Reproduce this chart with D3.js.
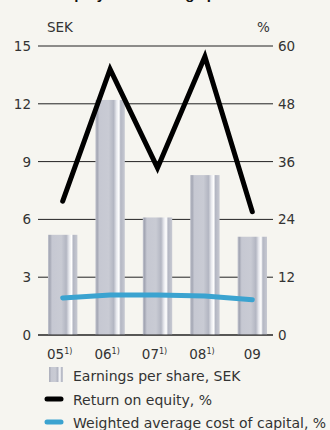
<!DOCTYPE html>
<html>
<head>
<meta charset="utf-8">
<script src="https://cdn.jsdelivr.net/npm/d3@7"></script>
<style>
  body { margin: 0; background: #f6f5f0; }
  svg { display: block; font-family: "DejaVu Sans", sans-serif; }
</style>
</head>
<body>
<div id="vis"></div>
<script>
const years = ["05", "06", "07", "08", "09"];
const yearNotes = ["1)", "1)", "1)", "1)", ""];
const eps = [5.2, 12.2, 6.1, 8.3, 5.1];
const roe = [27.8, 55.2, 34.7, 57.8, 25.6];
const wacc = [7.7, 8.3, 8.3, 8.1, 7.3];
const leftTicks = [0, 3, 6, 9, 12, 15];
const rightTicks = [0, 12, 24, 36, 48, 60];

const W = 330, H = 430;
const svg = d3.select("#vis").append("svg")
  .attr("width", W).attr("height", H);

const defs = svg.append("defs");
const grad = defs.append("linearGradient")
  .attr("id", "barGrad").attr("x1", "0%").attr("x2", "100%").attr("y1", "0%").attr("y2", "0%");
[[0, "#c3c5cf"], [6, "#a3a6b3"], [14, "#c6c8d2"], [45, "#c9cbd4"], [62, "#b3b6c2"], [72, "#e8e9ee"],
 [80, "#ffffff"], [86, "#b4b7c3"], [100, "#c7c9d2"]].forEach(([o, c]) => {
  grad.append("stop").attr("offset", o + "%").attr("stop-color", c);
});

// title (cut at top edge)
svg.append("text")
  .attr("x", -14).attr("y", -1)
  .attr("font-size", "15px").attr("font-weight", "bold").attr("fill", "#111")
  .attr("font-family", "Liberation Sans, Arial, sans-serif")
  .text("Return on equity and earnings per share");

const x = d3.scaleBand().domain(years).range([39, 276]).paddingInner(0.38).paddingOuter(0.19);
const yL = d3.scaleLinear().domain([0, 15]).range([335, 46]);
const yR = d3.scaleLinear().domain([0, 60]).range([335, 46]);

// gridlines
svg.append("g").selectAll("line")
  .data(leftTicks).enter().append("line")
  .attr("x1", 38).attr("x2", 273)
  .attr("y1", d => yL(d)).attr("y2", d => yL(d))
  .attr("stroke", "#222").attr("stroke-width", 1);

// tick labels
svg.append("g").selectAll("text")
  .data(leftTicks).enter().append("text")
  .attr("x", 31).attr("y", d => yL(d) + 5)
  .attr("text-anchor", "end").attr("font-size", "13.5px").attr("fill", "#333")
  .text(d => d);

svg.append("g").selectAll("text")
  .data(rightTicks).enter().append("text")
  .attr("x", 278).attr("y", d => yR(d) + 5)
  .attr("font-size", "13.5px").attr("fill", "#333")
  .text(d => d);

svg.append("text").attr("x", 47).attr("y", 32)
  .attr("font-size", "13.5px").attr("fill", "#333").text("SEK");
svg.append("text").attr("x", 257).attr("y", 32)
  .attr("font-size", "13.5px").attr("fill", "#333").text("%");

// bars
svg.append("g").selectAll("rect")
  .data(eps).enter().append("rect")
  .attr("x", (d, i) => x(years[i]))
  .attr("width", x.bandwidth())
  .attr("y", d => yL(d))
  .attr("height", d => yL(0) - yL(d))
  .attr("fill", "url(#barGrad)");

// baseline over bars
svg.append("line")
  .attr("x1", 38).attr("x2", 273).attr("y1", yL(0)).attr("y2", yL(0))
  .attr("stroke", "#222").attr("stroke-width", 1.2);

const cx = i => x(years[i]) + x.bandwidth() / 2;

const line = d3.line().x((d, i) => cx(i)).y(d => yR(d));

svg.append("path").datum(wacc)
  .attr("d", line).attr("fill", "none")
  .attr("stroke", "#3ba3d0").attr("stroke-width", 5).attr("stroke-linecap", "round");

svg.append("path").datum(roe)
  .attr("d", line).attr("fill", "none")
  .attr("stroke", "#000").attr("stroke-width", 5)
  .attr("stroke-linecap", "round").attr("stroke-linejoin", "miter");

// x labels
const xl = svg.append("g").selectAll("text")
  .data(years).enter().append("text")
  .attr("x", (d, i) => cx(i) + (yearNotes[i] ? -3 : 0))
  .attr("y", 359)
  .attr("text-anchor", "middle").attr("font-size", "13.5px").attr("fill", "#333");
xl.append("tspan").text(d => d);
xl.append("tspan").attr("dy", -5).attr("font-size", "8px").text((d, i) => yearNotes[i]);

// legend
const lg = svg.append("g");
lg.append("rect").attr("x", 49).attr("y", 367).attr("width", 14).attr("height", 15)
  .attr("fill", "url(#barGrad)");
lg.append("text").attr("x", 73).attr("y", 381)
  .attr("font-size", "14px").attr("fill", "#333").text("Earnings per share, SEK");

lg.append("line").attr("x1", 47).attr("x2", 61).attr("y1", 399).attr("y2", 399)
  .attr("stroke", "#000").attr("stroke-width", 5).attr("stroke-linecap", "round");
lg.append("text").attr("x", 73).attr("y", 405)
  .attr("font-size", "14px").attr("fill", "#333").text("Return on equity, %");

lg.append("line").attr("x1", 47).attr("x2", 61).attr("y1", 422).attr("y2", 422)
  .attr("stroke", "#3ba3d0").attr("stroke-width", 5).attr("stroke-linecap", "round");
lg.append("text").attr("x", 73).attr("y", 428)
  .attr("font-size", "14px").attr("fill", "#333").text("Weighted average cost of capital, %");
</script>
</body>
</html>
